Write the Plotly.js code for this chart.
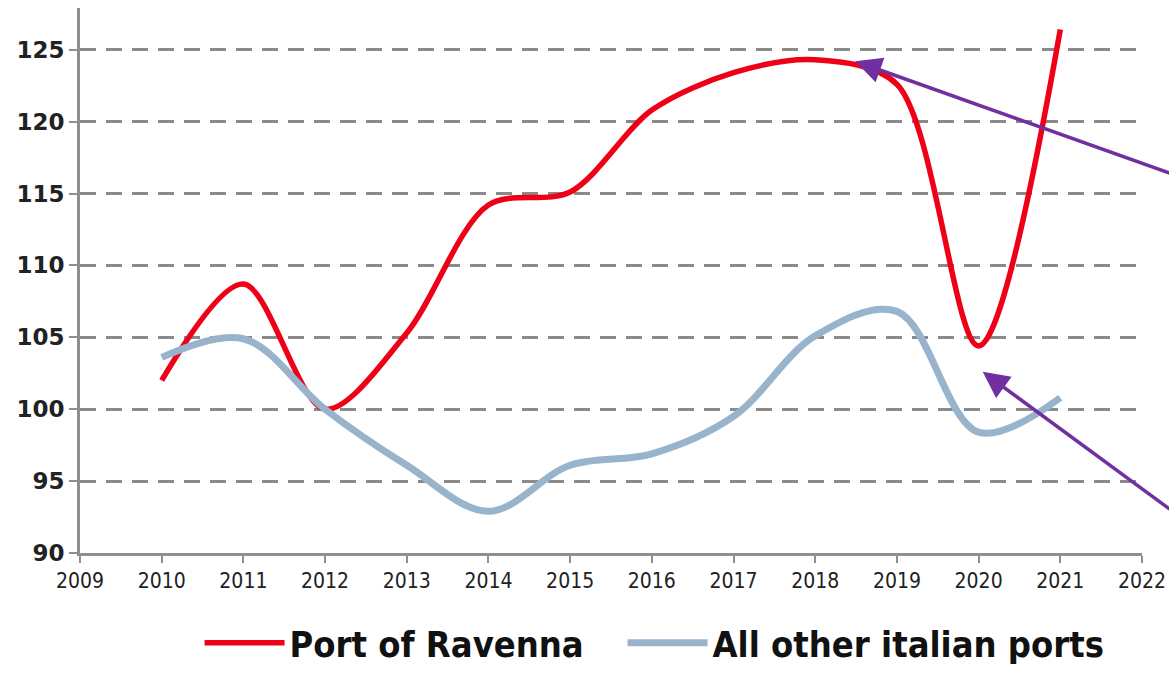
<!DOCTYPE html>
<html>
<head>
<meta charset="utf-8">
<script src="https://cdn.plot.ly/plotly-3.0.1.min.js"></script>
<style>
html,body{margin:0;padding:0;background:#fff;}
#chart{width:1169px;height:681px;}
.xtick text, .legendtext { font-stretch: condensed; }
</style>
</head>
<body>
<div id="chart"></div>
<script>
const years = [2010, 2011, 2012, 2013, 2014, 2015, 2016, 2017, 2018, 2019, 2020, 2021];
const ravenna = [102.0, 108.7, 100.0, 105.3, 114.2, 115.1, 120.8, 123.4, 124.3, 122.6, 104.4, 126.4];
const otherPorts = [103.6, 104.9, 100.0, 96.1, 92.9, 96.1, 96.9, 99.5, 105.1, 106.8, 98.4, 100.8];
const seriesNames = ["Port of Ravenna", "All other italian ports"];
const xTicks = [2009, 2010, 2011, 2012, 2013, 2014, 2015, 2016, 2017, 2018, 2019, 2020, 2021, 2022];
const yTicks = [90, 95, 100, 105, 110, 115, 120, 125];
// arrows: [headX, headY, tailX, tailY] in data units
const arrowUpper = [2018.49, 124.2, 2022.4, 116.3];
const arrowLower = [2020.05, 102.6, 2022.4, 92.8];

const gap = "\u00a0\u00a0\u00a0";
const traces = [
  {x: years, y: ravenna, name: seriesNames[0] + gap, type: "scatter", mode: "lines",
   line: {color: "#f00018", width: 5.5, shape: "spline", smoothing: 0.9}},
  {x: years, y: otherPorts, name: seriesNames[1], type: "scatter", mode: "lines",
   line: {color: "#98b4cc", width: 7, shape: "spline", smoothing: 1.0}}
];

function arrow(a) {
  return {x: a[0], y: a[1], ax: a[2], ay: a[3], xref: "x", yref: "y", axref: "x", ayref: "y",
    text: "", showarrow: true, arrowhead: 2, arrowsize: 1.5, arrowwidth: 3.5, arrowcolor: "#7030a0"};
}

const condensed = "DejaVu Sans Condensed, DejaVu Sans, sans-serif";

const layout = {
  width: 1169, height: 681,
  margin: {l: 80, r: 27, t: 8, b: 117},
  paper_bgcolor: "#ffffff", plot_bgcolor: "#ffffff",
  showlegend: true,
  legend: {orientation: "h", x: 0.541, xanchor: "center", y: -0.165, yanchor: "middle",
    font: {family: condensed, size: 36, color: "#111", weight: "bold"},
    itemwidth: 80},
  xaxis: {range: [2009, 2022], tickvals: xTicks, ticktext: xTicks.map(String),
    showgrid: false, zeroline: false, showline: true, linecolor: "#8f8f8f", linewidth: 3,
    ticks: "outside", ticklen: 7, tickwidth: 2, tickcolor: "#8f8f8f",
    tickfont: {family: condensed, size: 21, color: "#222"}},
  yaxis: {range: [90, 127.9], tickvals: yTicks, ticktext: yTicks.map(String),
    showgrid: true, gridcolor: "#8a8a8a", gridwidth: 3, griddash: "16px,10px",
    zeroline: false, showline: true, linecolor: "#8f8f8f", linewidth: 3,
    ticks: "outside", ticklen: 8, tickwidth: 2, tickcolor: "#8f8f8f",
    tickfont: {family: "DejaVu Sans, sans-serif", size: 23, color: "#222", weight: "bold"}},
  annotations: [arrow(arrowUpper), arrow(arrowLower)]
};

Plotly.newPlot("chart", traces, layout, {displayModeBar: false, staticPlot: true});
</script>
</body>
</html>
